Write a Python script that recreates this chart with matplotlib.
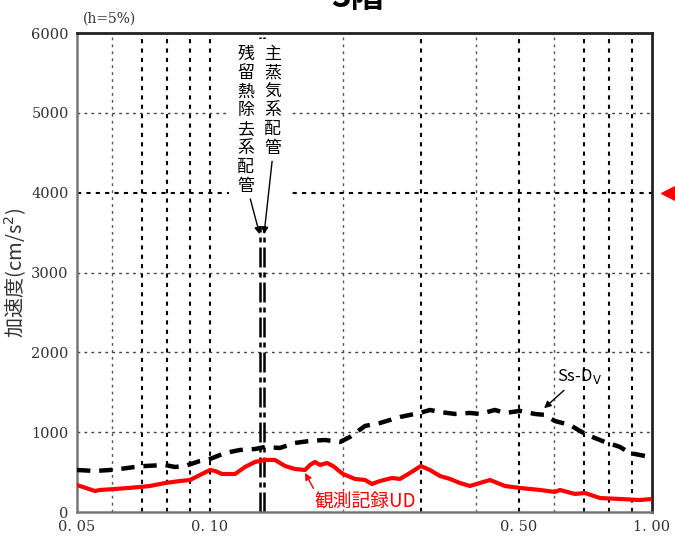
import matplotlib
matplotlib.use("Agg")
import matplotlib.pyplot as plt
import matplotlib.transforms as mtransforms
from matplotlib.patches import Rectangle
import numpy as np

plt.rcParams['font.family'] = ['Noto Sans CJK JP', 'DejaVu Sans']

# ---- data ----
obs_period = [0.050, 0.0549, 0.0564, 0.0610, 0.0694, 0.0731, 0.0791, 0.0855, 0.0901, 0.0949,
              0.100, 0.1026, 0.1064, 0.1139, 0.1200, 0.1264, 0.1332, 0.1403, 0.1478, 0.1556,
              0.1640, 0.1683, 0.1728, 0.1773, 0.1839, 0.1898, 0.1999, 0.2128, 0.2242, 0.2325,
              0.2424, 0.2580, 0.2690, 0.2834, 0.3000, 0.3145, 0.3313, 0.3491, 0.3677, 0.3873,
              0.4299, 0.4648, 0.5026, 0.5576, 0.6030, 0.6190, 0.6693, 0.7050, 0.7626, 0.8464,
              0.9391, 1.000]
obs_accel = [338, 263, 276, 288, 313, 326, 363, 388, 401, 464,
             526, 514, 476, 476, 564, 627, 652, 652, 576, 539,
             526, 589, 627, 589, 614, 576, 476, 414, 401, 351,
             388, 426, 414, 489, 576, 526, 451, 414, 363, 326,
             401, 326, 301, 276, 251, 276, 226, 238, 175, 163,
             150, 163]

ss_period = [0.050, 0.0549, 0.0594, 0.0626, 0.0676, 0.0712, 0.0791, 0.0833, 0.0878, 0.0949,
             0.100, 0.1081, 0.1169, 0.1264, 0.1332, 0.1439, 0.1556, 0.1683, 0.1820, 0.1968,
             0.2073, 0.2242, 0.2424, 0.2690, 0.2834, 0.2985, 0.3145, 0.3313, 0.3583, 0.3873,
             0.4081, 0.4412, 0.4648, 0.5026, 0.5436, 0.5724, 0.6030, 0.6522, 0.6871, 0.7236,
             0.7826, 0.8464, 0.8915, 0.9391, 0.9639]
ss_accel = [526, 514, 526, 539, 564, 576, 589, 564, 576, 639,
            664, 739, 777, 789, 815, 802, 865, 890, 902, 877,
            940, 1078, 1115, 1190, 1216, 1241, 1278, 1253, 1228, 1241,
            1228, 1278, 1241, 1266, 1228, 1216, 1140, 1090, 1015, 952,
            877, 815, 739, 714, 702]

pipe_periods = [0.1295, 0.1325]
pipe_labels = ['残留熱除去系配管', '主蒸気系配管']
marker_level = 4000

grid_thin_x = [0.06, 0.2, 0.4, 0.6]
grid_bold_x = [0.07, 0.08, 0.09, 0.1, 0.3, 0.5, 0.7, 0.8, 0.9]
grid_thin_y = [1000, 2000, 3000, 5000]
grid_bold_y = [4000]

xticks = [0.05, 0.10, 0.50, 1.00]
xticklabels = ['0. 05', '0. 10', '0. 50', '1. 00']
yticks = [0, 1000, 2000, 3000, 4000, 5000, 6000]

# ---- figure ----
fig = plt.figure(figsize=(6.75, 5.37), dpi=100)
ax = fig.add_axes([77/675, 25/537, 575/675, 479/537])
ax.set_xscale('log')
ax.set_xlim(0.05, 1.0)
ax.set_ylim(0, 6000)

for gx in grid_thin_x:
    ax.axvline(gx, color='#555555', lw=1.0, ls=(0, (2, 3)), zorder=1)
for gx in grid_bold_x:
    ax.axvline(gx, color='black', lw=1.5, ls=(0, (2, 2.5)), zorder=1)
for gy in grid_thin_y:
    ax.axhline(gy, color='#444444', lw=1.0, ls=(0, (2, 3)), zorder=1)
for gy in grid_bold_y:
    ax.axhline(gy, color='black', lw=1.5, ls=(0, (2, 2.5)), zorder=1)

for p in pipe_periods:
    ax.axvline(p, color='black', lw=1.8, ls=(0, (8, 2, 2, 2)), zorder=2)

# white backing behind the pipe labels
ax.add_patch(Rectangle((0.265, 0.598), 0.107, 0.39, transform=ax.transAxes,
                       facecolor='white', edgecolor='none', zorder=2.5))

ax.plot(ss_period, ss_accel, color='black', lw=3.2, ls=(0, (3, 2)), zorder=3)
ax.plot(obs_period, obs_accel, color='#ff0000', lw=3.0, zorder=4)

# axes frame
for s in ['left', 'bottom']:
    ax.spines[s].set_color('#777777')
    ax.spines[s].set_linewidth(1.8)
for s in ['top', 'right']:
    ax.spines[s].set_color('#222222')
    ax.spines[s].set_linewidth(2.0)

ax.set_xticks(xticks)
ax.set_xticklabels(xticklabels)
ax.xaxis.set_minor_locator(matplotlib.ticker.NullLocator())
ax.set_yticks(yticks)
ax.tick_params(length=0, pad=6)
for lab in ax.get_xticklabels() + ax.get_yticklabels():
    lab.set_fontfamily('DejaVu Serif')
    lab.set_fontsize(10.5)
    lab.set_color('#333333')

ax.set_ylabel('加速度(cm/s$^2$)', fontsize=14.5, color='#333333', labelpad=2)

ax.text(0.01, 1.015, '(h=5%)', transform=ax.transAxes, fontsize=10,
        fontfamily='DejaVu Serif', color='#333333', va='bottom', ha='left')

# pipe annotations
ax.annotate('\n'.join(pipe_labels[0]), xy=(pipe_periods[0], 3480), xytext=(0.1205, 5850),
            fontsize=12.2, ha='center', va='top', linespacing=1.06,
            arrowprops=dict(arrowstyle='-|>', color='black', lw=1.0, shrinkA=1, shrinkB=0,
                            mutation_scale=10, relpos=(0.7, 0.0)), zorder=5)
ax.annotate('\n'.join(pipe_labels[1]), xy=(pipe_periods[1], 3480), xytext=(0.1385, 5850),
            fontsize=12.2, ha='center', va='top', linespacing=1.06,
            arrowprops=dict(arrowstyle='-|>', color='black', lw=1.0, shrinkA=1, shrinkB=0,
                            mutation_scale=10, relpos=(0.5, 0.0)), zorder=5)

# series labels
ax.annotate('Ss-D$_\\mathrm{V}$', xy=(0.57, 1300), xytext=(0.61, 1700),
            fontsize=12, ha='left', va='center',
            arrowprops=dict(arrowstyle='-|>', color='black', lw=1.0, shrinkA=2, shrinkB=0,
                            mutation_scale=10))
ax.annotate('観測記録UD', xy=(0.164, 489), xytext=(0.1725, 130),
            fontsize=13.5, color='#ff0000', ha='left', va='center',
            arrowprops=dict(arrowstyle='-|>', color='#ff0000', lw=1.0, shrinkA=0, shrinkB=0,
                            mutation_scale=10, relpos=(0.02, 0.85)))

# red marker at right edge
trans = mtransforms.blended_transform_factory(ax.transAxes, ax.transData)
ax.plot([1.03], [marker_level], marker='<', color='#ff0000', markersize=11,
        transform=trans, clip_on=False)

# title (cut off at top, as in the reference)
fig.text(358/675, 1 - 7/537, '3階', fontsize=24, fontweight='bold',
         ha='center', va='baseline')

fig.savefig('out.png', dpi=100)
